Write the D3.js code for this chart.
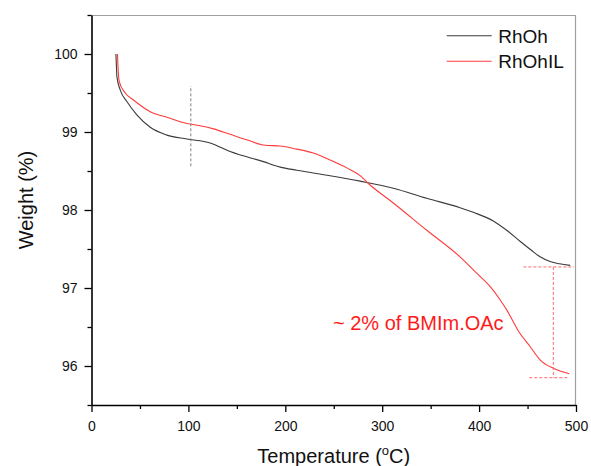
<!DOCTYPE html>
<html>
<head>
<meta charset="utf-8">
<script src="https://cdn.jsdelivr.net/npm/d3@7"></script>
<style>
  body { margin: 0; background: #fff; }
  svg { display: block; font-family: Arial, "Liberation Sans", sans-serif; }
</style>
</head>
<body>
<div id="chart"></div>
<script>
// TGA curves: RhOh vs RhOhIL

// Data
const rhohTemp = [25.2, 25.7, 26.2, 29.6, 36.5, 46.8, 60.6, 77.8, 98.4, 122.4, 143.1, 177.4, 194.7, 211.9, 246.2, 277.2, 311.5, 346, 380.3, 394, 414.7, 428.5, 442.2, 454.3, 462.9, 473.2, 483, 494];
const rhohWeight = [100, 99.85, 99.71, 99.54, 99.39, 99.22, 99.06, 98.96, 98.91, 98.86, 98.75, 98.62, 98.55, 98.51, 98.44, 98.37, 98.28, 98.15, 98.03, 97.97, 97.86, 97.74, 97.6, 97.48, 97.4, 97.34, 97.31, 97.29];

const rhohilTemp = [26.8, 27.3, 28.6, 34.8, 43.3, 60.6, 77.8, 98.4, 112.1, 125.9, 143.1, 160.3, 179.2, 194.7, 211.9, 229, 246.2, 263.5, 277.2, 285.7, 311.5, 346, 380.3, 397.5, 411.3, 421.6, 428.5, 441, 452.6, 462.9, 476.6, 493.1];
const rhohilWeight = [100, 99.85, 99.65, 99.5, 99.41, 99.26, 99.19, 99.11, 99.08, 99.04, 98.97, 98.9, 98.83, 98.82, 98.78, 98.73, 98.64, 98.54, 98.44, 98.34, 98.09, 97.74, 97.4, 97.19, 97.02, 96.85, 96.72, 96.44, 96.25, 96.08, 95.97, 95.9];

const xTicks = [0, 100, 200, 300, 400, 500];
const xMinorTicks = [50, 150, 250, 350, 450];
const yTicks = [96, 97, 98, 99, 100];
const yMinorTicks = [95.5, 96.5, 97.5, 98.5, 99.5, 100.5];

const seriesNames = ['RhOh', 'RhOhIL'];
const seriesColors = ['#3a3a3a', '#ff3b3b'];

// annotation values
const markerTemp = 102.5;
const markerRange = [98.56, 99.59];
const lossTemp = 476.6;
const lossTop = 97.27;
const lossBottom = 95.85;
const lossTopSpan = [445.7, 498];
const lossBottomSpan = [451.8, 493];

// Dimensions
const W = 591, H = 466;
const margin = { top: 15, right: 15, bottom: 61, left: 91.5 };
const width = W - margin.left - margin.right;
const height = H - margin.top - margin.bottom;

const svg = d3.select('#chart')
    .append('svg')
    .attr('width', W)
    .attr('height', H);

const g = svg.append('g')
    .attr('transform', `translate(${margin.left}, ${margin.top})`);

const xScale = d3.scaleLinear().domain([0, 500]).range([0, width]);
const yScale = d3.scaleLinear().domain([95.5, 100.5]).range([height, 0]);

// frame top / right (grey)
g.append('path')
    .attr('d', `M0,0.5H${width - 0.5}V${height}`)
    .attr('fill', 'none')
    .attr('stroke', '#a0a0a0')
    .attr('stroke-width', 1.2);

// Minor ticks
g.append('g')
    .attr('transform', `translate(0, ${height})`)
    .call(d3.axisBottom(xScale).tickValues(xMinorTicks).tickSize(4).tickFormat(''))
    .call(a => a.select('.domain').remove());
g.append('g')
    .call(d3.axisLeft(yScale).tickValues(yMinorTicks).tickSize(4).tickFormat(''))
    .call(a => a.select('.domain').remove());

// Major axes
const xAxis = g.append('g')
    .attr('transform', `translate(0, ${height})`)
    .call(d3.axisBottom(xScale).tickValues(xTicks).tickSize(7).tickSizeOuter(0).tickPadding(9).tickFormat(d3.format('d')));

const yAxis = g.append('g')
    .call(d3.axisLeft(yScale).tickValues(yTicks).tickSize(7).tickSizeOuter(0).tickPadding(7).tickFormat(d3.format('d')));

[xAxis, yAxis].forEach(a => {
    a.selectAll('text').attr('font-size', 14).attr('fill', '#111').attr('font-family', 'Arial, "Liberation Sans", sans-serif');
    a.select('.domain').attr('stroke-width', 1.6);
});
g.selectAll('.tick line').attr('stroke', '#000').attr('stroke-width', 1.3);

// Lines
const line = d3.line()
    .x(d => xScale(d[0]))
    .y(d => yScale(d[1]))
    .curve(d3.curveMonotoneX);

const series = [
    d3.zip(rhohTemp, rhohWeight),
    d3.zip(rhohilTemp, rhohilWeight)
];

g.selectAll('.series')
    .data(series)
    .enter()
    .append('path')
    .attr('class', 'series')
    .attr('d', line)
    .attr('fill', 'none')
    .attr('stroke', (d, i) => seriesColors[i])
    .attr('stroke-width', 1.1);

// grey dashed marker
g.append('line')
    .attr('x1', xScale(markerTemp)).attr('x2', xScale(markerTemp))
    .attr('y1', yScale(markerRange[0])).attr('y2', yScale(markerRange[1]))
    .attr('stroke', '#808080')
    .attr('stroke-width', 1)
    .attr('stroke-dasharray', '3,2');

// red dashed weight loss bracket
const bracket = [
    [lossTopSpan[0], lossTop, lossTopSpan[1], lossTop],
    [lossBottomSpan[0], lossBottom, lossBottomSpan[1], lossBottom],
    [lossTemp, lossTop, lossTemp, lossBottom]
];
g.selectAll('.bracket')
    .data(bracket)
    .enter()
    .append('line')
    .attr('class', 'bracket')
    .attr('x1', d => xScale(d[0])).attr('y1', d => yScale(d[1]))
    .attr('x2', d => xScale(d[2])).attr('y2', d => yScale(d[3]))
    .attr('stroke', '#ff6a6a')
    .attr('stroke-width', 1)
    .attr('stroke-dasharray', '3,2');

g.append('text')
    .attr('x', 333 - margin.left)
    .attr('y', 330 - margin.top)
    .attr('font-size', 20)
    .attr('fill', '#ff1a1a')
    .text('~ 2% of BMIm.OAc');

// Legend
const legend = g.selectAll('.legend')
    .data(seriesNames)
    .enter()
    .append('g')
    .attr('class', 'legend')
    .attr('transform', (d, i) => `translate(${446.7 - margin.left}, ${35.7 - margin.top + i * 25.6})`);

legend.append('line')
    .attr('x1', 0).attr('x2', 45)
    .attr('stroke', (d, i) => seriesColors[i])
    .attr('stroke-width', 1.1);

legend.append('text')
    .attr('x', 51.6)
    .attr('y', 7)
    .attr('font-size', 19)
    .attr('fill', '#111')
    .text(d => d);

// Axis titles
svg.append('text')
    .attr('transform', 'rotate(-90)')
    .attr('x', -200)
    .attr('y', 33)
    .attr('text-anchor', 'middle')
    .attr('font-size', 20)
    .attr('fill', '#111')
    .text('Weight (%)');

const xTitle = svg.append('text')
    .attr('x', margin.left + width / 2)
    .attr('y', 463)
    .attr('text-anchor', 'middle')
    .attr('font-size', 20)
    .attr('fill', '#111');
xTitle.append('tspan').text('Temperature (');
xTitle.append('tspan').attr('font-size', 13).attr('dy', -8).text('o');
xTitle.append('tspan').attr('dy', 8).text('C)');
</script>
</body>
</html>
